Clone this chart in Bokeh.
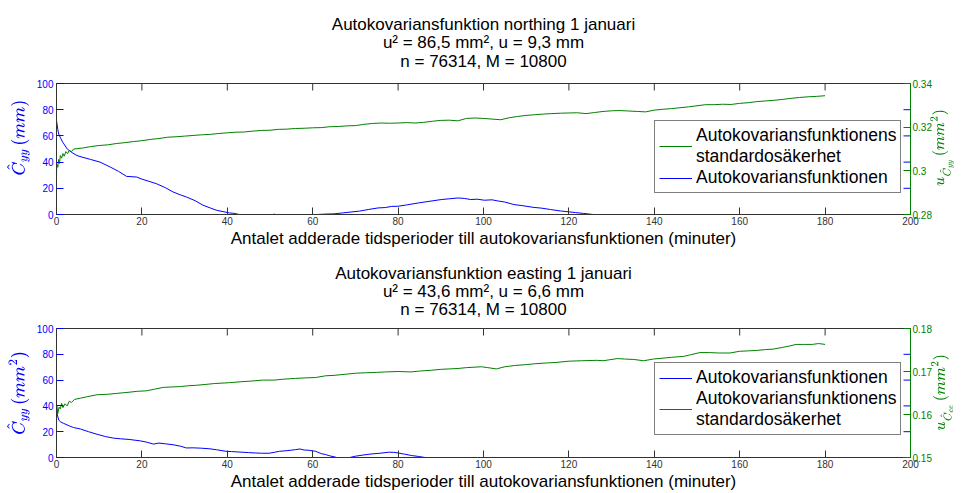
import math
from bokeh.plotting import figure
from bokeh.models import Range1d, LinearAxis, FixedTicker, Legend, LegendItem, TeX, Title
from bokeh.layouts import column
from bokeh.embed import file_html
from bokeh.resources import INLINE

FONT = "Liberation Sans"
BLUE = "#0000ff"
GREEN = "#008000"
DARK = "#333333"

# ---------------- data: northing (top) ----------------
top_title = ["Autokovariansfunktion northing 1 januari",
             "u\u00b2 = 86,5 mm\u00b2, u = 9,3 mm",
             "n = 76314, M = 10800"]
top_lag_acov = [0, 0.3, 0.5, 1, 1.5, 2.5, 3.5, 4.8, 6, 8, 10.2, 12.6, 14.5, 16.4, 18.8, 20, 21.5, 23.4, 25.5, 27.3,
                29, 30.4, 32.5, 34.3, 36, 37.4, 39, 40.5, 41.5, 42.8, 45, 48, 50, 51, 52, 55, 58, 60, 61, 63,
                65, 67, 69.2, 71, 73, 75.3, 77, 78.5, 80, 82, 84.7, 87, 90.1, 92, 94, 95.5, 97, 98.5, 100.2, 102,
                103.3, 105, 107.1, 109, 111.8, 113.5, 115.7, 118, 120, 121.5, 123.4, 125.7, 128, 135, 145, 160, 180]
top_acov = [71.7, 65, 61.5, 58, 55, 50.1, 47.5, 45, 43.8, 42, 40, 36.2, 33, 29.1, 28.6, 27, 25.5, 23.5, 20.5, 17.2,
            15, 13.4, 10.5, 7.1, 5, 3.3, 2.2, 1.2, 0.9, 0, -1.5, -3, -1, 0.3, -1, -4, -3, -1, 0, 0.3,
            0.5, 1.2, 2.0, 2.6, 3.8, 5.0, 5.3, 6.2, 6.3, 7.3, 8.8, 9.9, 11.4, 12.0, 12.6, 12.3, 11.4, 11.7, 10.9, 11.2,
            10.4, 9.5, 7.6, 6.8, 5.4, 4.9, 3.8, 2.7, 2.0, 1.5, 0.8, 0, -2, -5, -8, -10, -12]
top_lag_std = [0, 0.05, 0.3, 0.5, 0.7, 0.9, 1.2, 1.5, 1.8, 2.2, 2.6, 3.0, 3.5, 4.0, 5, 6.3,
               8, 10, 12, 14, 16, 18, 20, 22, 24, 26,
               28, 30, 32, 34, 36, 38, 40, 42, 44, 46,
               48, 50, 52, 54, 56, 58, 60, 62, 64, 66,
               68, 70, 72, 74, 76, 78, 80, 82, 84, 86,
               88, 90, 92, 94, 96, 98, 100, 102, 104, 106,
               108, 110, 112, 114, 116, 118, 120, 122, 124, 126,
               128, 130, 132, 134, 136, 138, 140, 142, 144, 146,
               148, 150, 152, 154, 156, 158, 160, 162, 164, 166,
               168, 170, 172, 174, 176, 178, 180]
top_std = [0.2972, 0.3032, 0.3016, 0.3052, 0.3034, 0.307, 0.3058, 0.3079, 0.3067, 0.3088, 0.3079, 0.3094, 0.3088, 0.31, 0.3102, 0.3105,
           0.3111, 0.3116, 0.3119, 0.3125, 0.3129, 0.3134, 0.3138, 0.3144, 0.3148, 0.3154,
           0.3156, 0.3159, 0.3162, 0.3165, 0.3167, 0.3171, 0.3174, 0.3177, 0.3178, 0.3182,
           0.3185, 0.3186, 0.319, 0.3191, 0.3194, 0.3195, 0.3197, 0.3198, 0.3202, 0.3203,
           0.3206, 0.3207, 0.3213, 0.3217, 0.3219, 0.3218, 0.3219, 0.3221, 0.3219, 0.3222,
           0.3227, 0.3231, 0.3232, 0.3229, 0.324, 0.3242, 0.324, 0.3237, 0.3234, 0.3243,
           0.3249, 0.3254, 0.3257, 0.326, 0.3262, 0.3264, 0.3265, 0.3266, 0.3262, 0.3267,
           0.3272, 0.3275, 0.3276, 0.3274, 0.3272, 0.327, 0.3278, 0.3282, 0.3285, 0.3289,
           0.3293, 0.3298, 0.3303, 0.3303, 0.3305, 0.3304, 0.3309, 0.3312, 0.3317, 0.332,
           0.3323, 0.3327, 0.3332, 0.3336, 0.3339, 0.3341, 0.3344]
top_right_ticks = [0.28, 0.3, 0.32, 0.34]
top_right_labels = ["0.28", "0.3", "0.32", "0.34"]

# ---------------- data: easting (bottom) ----------------
bot_title = ["Autokovariansfunktion easting 1 januari",
             "u\u00b2 = 43,6 mm\u00b2, u = 6,6 mm",
             "n = 76314, M = 10800"]
bot_lag_acov = [0, 0.2, 0.55, 1, 1.7, 3, 4, 5.6, 7.5, 9.5, 11.5, 13.4, 15, 17, 19.6, 21, 22.7, 24, 25.5, 27.3,
                29, 30.4, 32, 34, 35.7, 37.5, 39.7, 41, 43, 45, 46.7, 48, 49.8, 51, 52.2, 54, 56, 57, 58, 59.1,
                60.7, 62, 63, 64, 65.3, 66.5, 68, 70, 72, 73.9, 75.5, 77.8, 79, 80, 81.5, 83.2, 84.8, 86.3, 88, 95,
                110, 140, 180]
bot_acov = [40.3, 33, 28.9, 27.5, 26.4, 24.5, 23.2, 22.1, 20, 18, 16.2, 15, 14.5, 14.0, 12.9, 12.0, 10.4, 11.2, 10.6, 9.9,
            8.8, 7.4, 7.5, 7.2, 6.8, 6.0, 4.8, 4.6, 4.2, 3.8, 3.5, 3.3, 3.3, 4.0, 4.8, 5.3, 6.1, 6.6, 5.8, 5.6,
            4.8, 3.0, 2.3, 1.3, 0.3, -1, -0.5, 1.0, 2.0, 2.8, 3.2, 4.1, 4.0, 3.5, 2.6, 1.5, 0.8, 0, -2, -5,
            -8, -10, -9]
bot_lag_std = [0, 0.05, 0.3, 0.6, 0.9, 1.2, 1.5, 2.0, 2.5, 3.0, 3.5, 4.2, 5.6, 7, 9.5, 12, 14, 17.2, 19, 21,
               23, 25, 27, 29, 31, 32.8, 35, 37, 40.5, 43, 46, 48.3, 51, 53, 56, 58, 60.7, 63, 65, 68,
               70, 72.3, 75, 77, 80, 83, 85, 87.9, 90, 92, 94, 96, 99.5, 101, 103, 105, 107.3, 110, 112, 115,
               117, 120, 123, 126.6, 128, 131.3, 133, 135.2, 137.5, 139.8, 142, 144, 146.8, 148.5, 150.7, 153, 155, 157.7, 160, 162,
               164, 166, 167.8, 170, 172, 173.2, 175, 177, 178.5, 180]
bot_std = [0.156, 0.162, 0.1602, 0.1617, 0.1613, 0.1626, 0.1616, 0.1625, 0.162, 0.1631, 0.1628, 0.1635, 0.1638, 0.1641, 0.1646, 0.1647, 0.1649, 0.1652, 0.1654, 0.1655,
           0.1659, 0.1663, 0.1664, 0.1665, 0.1667, 0.1668, 0.167, 0.1672, 0.1674, 0.1676, 0.1678, 0.168, 0.168, 0.1682, 0.1684, 0.1685, 0.1686, 0.169, 0.1691, 0.1694,
           0.1696, 0.1697, 0.1698, 0.1699, 0.17, 0.1699, 0.1701, 0.1703, 0.1705, 0.1706, 0.1707, 0.1709, 0.1711, 0.1709, 0.1706, 0.1711, 0.1714, 0.1716, 0.1718, 0.172,
           0.1721, 0.1724, 0.1725, 0.1726, 0.1725, 0.173, 0.1729, 0.1728, 0.1725, 0.1729, 0.1731, 0.1733, 0.1735, 0.1739, 0.1744, 0.1744, 0.1743, 0.1743, 0.1747, 0.1748,
           0.1749, 0.1751, 0.1752, 0.1756, 0.176, 0.1763, 0.1763, 0.1763, 0.1765, 0.1763]
bot_right_ticks = [0.15, 0.16, 0.17, 0.18]
bot_right_labels = ["0.15", "0.16", "0.17", "0.18"]

x_ticks = [0, 20, 40, 60, 80, 100, 120, 140, 160, 180, 200]
left_ticks = [0, 20, 40, 60, 80, 100]
inner_ticks = [20, 40, 60, 80]
x_label = "Antalet adderade tidsperioder till autokovariansfunktionen (minuter)"
label_acov = "Autokovariansfunktionen"
label_std = "Autokovariansfunktionens\nstandardosäkerhet"


def set_safe(obj, name, val):
    try:
        setattr(obj, name, val)
    except (AttributeError, ValueError):
        pass


def panel(title_lines, lag_a, acov, lag_s, std, rrange, rticks, rlabels, left_tex, right_tex,
          std_first, height, btop, bbottom, leg_y, title_standoffs):
    p = figure(width=968, height=height, x_range=Range1d(0, 200), y_range=Range1d(0, 100),
               output_backend="svg", toolbar_location=None, title=None,
               min_border_left=56, min_border_right=51, min_border_top=btop, min_border_bottom=bbottom,
               background_fill_color="white", border_fill_color="white")
    p.outline_line_color = DARK
    p.xgrid.visible = False
    p.ygrid.visible = False

    # three centred title lines, added from the frame outwards
    aligns = ["top", "bottom", "bottom"]
    for i, line in enumerate(reversed(title_lines)):
        t = Title(text=line, align="center", text_font=FONT, text_font_size="17px",
                  text_font_style="normal", text_color="black", vertical_align=aligns[i])
        set_safe(t, "standoff", title_standoffs[i])
        p.add_layout(t, "above")

    xa = p.xaxis[0]
    xa.ticker = FixedTicker(ticks=x_ticks)
    xa.major_tick_in = 7
    xa.major_tick_out = 0
    xa.minor_tick_line_color = None
    xa.axis_line_color = DARK
    xa.major_tick_line_color = DARK
    xa.major_label_text_font = FONT
    xa.major_label_text_font_size = "10px"
    xa.major_label_text_color = DARK
    xa.major_label_standoff = 2
    xa.axis_label = x_label
    xa.axis_label_text_font = FONT
    xa.axis_label_text_font_size = "17px"
    xa.axis_label_text_font_style = "normal"
    xa.axis_label_text_color = "black"
    xa.axis_label_standoff = 1

    ya = p.yaxis[0]
    ya.ticker = FixedTicker(ticks=left_ticks)
    ya.major_tick_in = 7
    ya.major_tick_out = 0
    ya.minor_tick_line_color = None
    ya.axis_line_color = DARK
    ya.major_tick_line_color = BLUE
    ya.major_label_text_font = FONT
    ya.major_label_text_font_size = "10px"
    ya.major_label_text_color = BLUE
    ya.major_label_standoff = 3
    ya.axis_label = TeX(text=left_tex)
    ya.axis_label_text_font_size = "15px"
    ya.axis_label_text_color = BLUE
    ya.axis_label_standoff = 4

    p.extra_y_ranges = {"r": Range1d(rrange[0], rrange[1])}
    ra = LinearAxis(y_range_name="r", ticker=FixedTicker(ticks=rticks),
                    major_label_overrides={t: l for t, l in zip(rticks, rlabels)},
                    major_tick_in=7, major_tick_out=0, minor_tick_line_color=None,
                    axis_line_color=GREEN, major_tick_line_color=GREEN,
                    major_label_text_font=FONT, major_label_text_font_size="10px",
                    major_label_text_color=GREEN, major_label_standoff=2,
                    axis_label=TeX(text=right_tex), axis_label_text_font_size="12px",
                    axis_label_text_color=GREEN, axis_label_standoff=7)
    set_safe(ra, "axis_label_orientation", math.pi / 2)
    set_safe(ra, "axis_label_align", "start")
    p.add_layout(ra, "right")

    # inward tick marks on the top edge and the mirrored left ticks on the right edge
    p.ray(x=x_ticks, y=[p.y_range.end] * len(x_ticks), length=7, length_units="screen",
          angle=-math.pi / 2, line_color=DARK, line_width=1)
    p.ray(x=[p.x_range.end] * len(inner_ticks), y=inner_ticks, length=7, length_units="screen",
          angle=math.pi, line_color=BLUE, line_width=1)

    rb = p.line(lag_a, acov, line_color=BLUE, line_width=1)
    rg = p.line(lag_s, std, line_color=GREEN, line_width=1, y_range_name="r")

    it_a = LegendItem(label=label_acov, renderers=[rb])
    it_s = LegendItem(label=label_std, renderers=[rg])
    items = [it_s, it_a] if std_first else [it_a, it_s]
    leg = Legend(items=items, location=(598, leg_y))
    leg.label_text_font = FONT
    leg.label_text_font_size = "17.5px"
    leg.label_text_color = "black"
    leg.label_text_line_height = 1.17
    leg.label_standoff = 4
    leg.glyph_width = 33
    leg.padding = 4
    leg.spacing = 0
    leg.margin = 0
    leg.border_line_color = "black"
    leg.border_line_width = 1
    leg.background_fill_color = "white"
    leg.background_fill_alpha = 1
    p.add_layout(leg)
    return p


p1 = panel(top_title, top_lag_acov, top_acov, top_lag_std, top_std, (0.28, 0.34),
           top_right_ticks, top_right_labels,
           r"\hspace{1.25em}\hat{C}_{yy}\,(mm)", r"\hspace{1.8em}u_{\hat{C}_{yy}}\,(mm^2)",
           True, 254, 83, 40, 21, [22, -22, 13])
p2 = panel(bot_title, bot_lag_acov, bot_acov, bot_lag_std, bot_std, (0.15, 0.18),
           bot_right_ticks, bot_right_labels,
           r"\hat{C}_{yy}\,(mm^2)", r"\hspace{1.7em}u_{\hat{C}_{ee}}\,(mm^2)",
           False, 239, 74, 35, 22, [15, -16, 9])

layout = column(p1, p2, spacing=0)
open("out.html", "w").write(file_html(layout, INLINE))
